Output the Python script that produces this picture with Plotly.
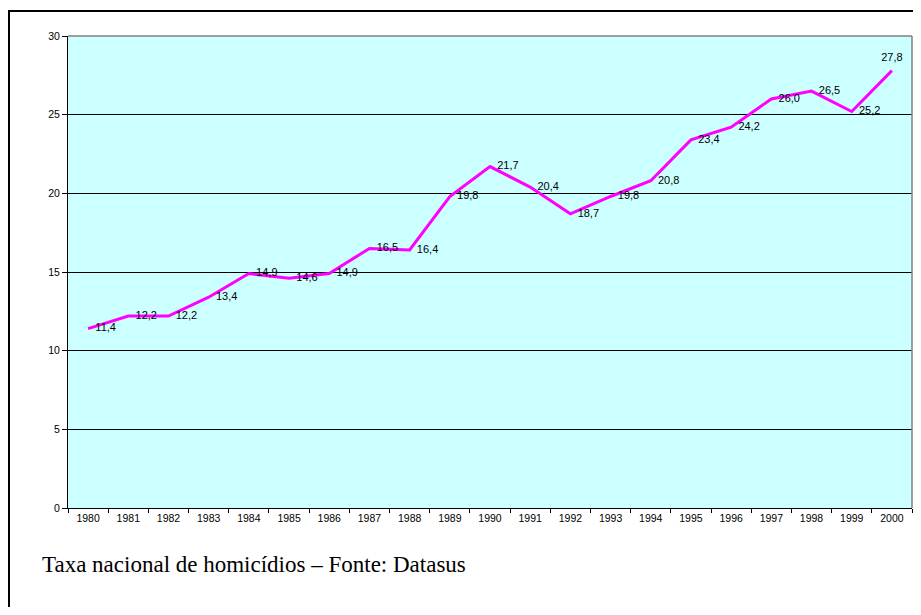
import plotly.graph_objects as go

years = [str(y) for y in range(1980, 2001)]
rates = [11.4, 12.2, 12.2, 13.4, 14.9, 14.6, 14.9, 16.5, 16.4, 19.8, 21.7,
         20.4, 18.7, 19.8, 20.8, 23.4, 24.2, 26.0, 26.5, 25.2, 27.8]
labels = [f"{v:.1f}".replace(".", ",") for v in rates]
caption = "Taxa nacional de homicídios \u2013 Fonte: Datasus"

OFF = 8  # page body margin
W, H = 921 - 2 * OFF, 615 - 2 * OFF
L, T = 68 - OFF, 36 - OFF
R = W - (912 - OFF)
B = H - (508 - OFF)
pw, ph = W - L - R, H - T - B

def px_x(x):
    return (x - OFF - L) / pw

def px_y(y):
    return (H - B - (y - OFF)) / ph

# last label kept inside the visible page
tpos = ["middle right"] * (len(rates) - 1) + ["top center"]

fig = go.Figure()
fig.add_trace(go.Scatter(
    x=years, y=rates, mode="lines+markers+text", text=labels,
    textposition=tpos,
    textfont=dict(family="Liberation Sans, Arial", size=11, color="#000000"),
    line=dict(color="#FF00FF", width=3),
    marker=dict(size=10, color="rgba(0,0,0,0)", line=dict(width=0, color="rgba(0,0,0,0)")),
    cliponaxis=False, hoverinfo="skip", showlegend=False,
))

fig.update_layout(
    width=W, height=H,
    margin=dict(l=L, r=R, t=T, b=B, pad=0),
    paper_bgcolor="#FFFFFF",
    plot_bgcolor="#CCFFFF",
    font=dict(family="Liberation Sans, Arial", size=10.5, color="#000000"),
    xaxis=dict(
        type="category", range=[-0.5, 20.5],
        showgrid=False, showline=True, linecolor="#000000", linewidth=1,
        ticks="outside", tickson="boundaries", ticklen=4, tickcolor="#000000",
        tickfont=dict(size=10.5), zeroline=False, fixedrange=True,
    ),
    yaxis=dict(
        range=[0, 30], dtick=5, tick0=0,
        showgrid=True, gridcolor="#000000", gridwidth=1,
        showline=True, linecolor="#000000", linewidth=1,
        ticks="outside", ticklen=5, tickcolor="#000000",
        tickfont=dict(size=10.5), zeroline=False, fixedrange=True,
    ),
    shapes=[
        dict(type="line", xref="paper", yref="paper", x0=0, x1=1, y0=1, y1=1,
             line=dict(color="#808080", width=1.5), layer="above"),
        dict(type="line", xref="paper", yref="paper", x0=1, x1=1, y0=0, y1=1,
             line=dict(color="#808080", width=1.5), layer="above"),
        dict(type="rect", xref="paper", yref="paper",
             x0=px_x(9), x1=px_x(940), y0=px_y(640), y1=px_y(11),
             line=dict(color="#000000", width=2), fillcolor="rgba(0,0,0,0)",
             layer="above"),
    ],
    annotations=[
        dict(text=caption, xref="paper", yref="paper",
             x=px_x(40), y=px_y(564), xanchor="left", yanchor="middle",
             showarrow=False,
             font=dict(family="Liberation Serif, Times New Roman", size=23, color="#000000")),
    ],
)

fig.write_html("out.html")
